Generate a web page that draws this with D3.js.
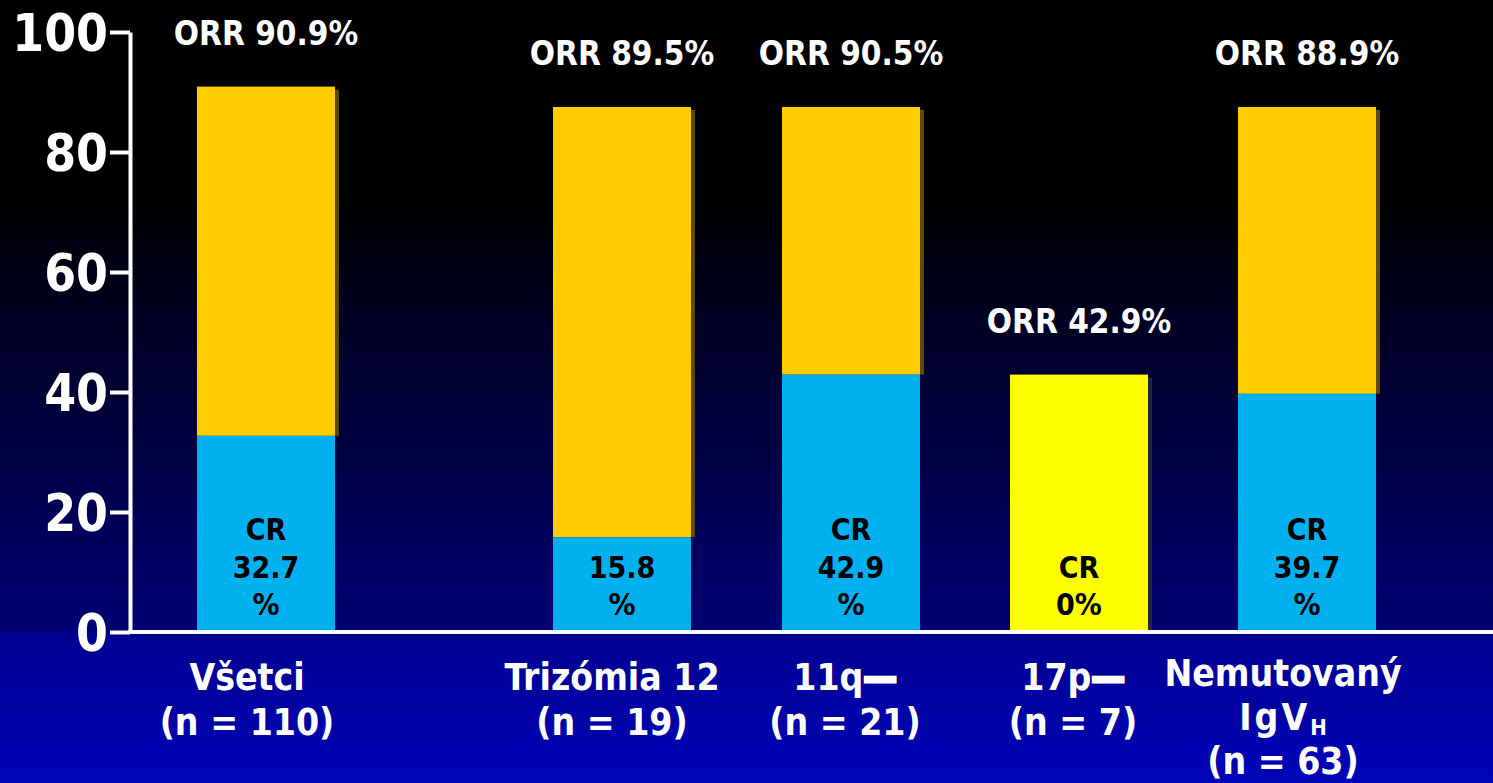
<!DOCTYPE html>
<html>
<head>
<meta charset="utf-8">
<script src="https://cdn.jsdelivr.net/npm/d3@7"></script>
<style>
  body { margin: 0; background: #000; }
  svg { display: block; font-family: "DejaVu Sans Condensed", "DejaVu Sans", sans-serif; font-weight: bold; }
</style>
</head>
<body>
<svg id="svg" width="1493" height="783"></svg>
<script>
// values
const categories = ["Všetci", "Trizómia 12", "11q", "17p", "IgVH"];
const categoryLines = [
	["Všetci", "(n = 110)"],
	["Trizómia 12", "(n = 19)"],
	["11q—", "(n = 21)"],
	["17p—", "(n = 7)"],
	["Nemutovaný", "IgV_H", "(n = 63)"],
];
const orrValues = [90.9, 89.5, 90.5, 42.9, 88.9];
const crValues = [32.7, 15.8, 42.9, 0, 39.7];
// bar heights as they are drawn on the slide (not always equal to ORR)
const barTops = [90.9, 87.5, 87.5, 42.9, 87.5];
const crLabelLines = [
	["CR", "32.7", "%"],
	["", "15.8", "%"],
	["CR", "42.9", "%"],
	["", "CR", "0%"],
	["CR", "39.7", "%"],
];
const yTicks = [0, 20, 40, 60, 80, 100];

const W = 1493, H = 783;
const BAR_W = 138;
const ORANGE = "#ffcc00", CYAN = "#00b0ef", YELLOW = "#ffff00";

const svg = d3.select("#svg");

const data = categories.map((c, i) => ({
	cat: c,
	lines: categoryLines[i],
	orr: orrValues[i],
	cr: crValues[i],
	top: barTops[i],
	crLines: crLabelLines[i],
}));

const y = d3.scaleLinear().domain([0, 100]).range([632, 32]);
const x = d3.scaleOrdinal().domain(categories).range([266, 622, 851, 1079, 1307]);
const xLabel = d3.scaleOrdinal().domain(categories).range([247, 612, 845, 1073, 1283]);

// background
const defs = svg.append("defs");
const g1 = defs.append("linearGradient").attr("id", "bgTop").attr("x1", 0).attr("x2", 0).attr("y1", 0).attr("y2", 1);
g1.append("stop").attr("offset", "0%").attr("stop-color", "#000000");
g1.append("stop").attr("offset", "30%").attr("stop-color", "#000000");
g1.append("stop").attr("offset", "100%").attr("stop-color", "#000074");
const g2 = defs.append("linearGradient").attr("id", "bgBot").attr("x1", 0).attr("x2", 0).attr("y1", 0).attr("y2", 1);
g2.append("stop").attr("offset", "0%").attr("stop-color", "#00008f");
g2.append("stop").attr("offset", "100%").attr("stop-color", "#0004b8");

svg.append("rect").attr("width", W).attr("height", y(0)).attr("fill", "url(#bgTop)");
svg.append("rect").attr("y", y(0)).attr("width", W).attr("height", H - y(0)).attr("fill", "url(#bgBot)");

// shadows of the upper segments
svg.selectAll(".shadow")
	.data(data)
	.join("rect")
	.attr("class", "shadow")
	.attr("x", (d) => x(d.cat) - BAR_W / 2 + 4)
	.attr("y", (d) => y(d.top) + 3)
	.attr("width", BAR_W)
	.attr("height", (d) => y(d.cr) - y(d.top) - 3)
	.attr("fill", (d) => (d.cr === 0 ? "#23233c" : "#5c4a0c"));

// ORR segment
svg.selectAll(".orr")
	.data(data)
	.join("rect")
	.attr("class", "orr")
	.attr("x", (d) => x(d.cat) - BAR_W / 2)
	.attr("y", (d) => y(d.top))
	.attr("width", BAR_W)
	.attr("height", (d) => y(d.cr) - y(d.top))
	.attr("fill", (d) => (d.cr === 0 ? YELLOW : ORANGE));

// CR segment
svg.selectAll(".cr")
	.data(data.filter((d) => d.cr > 0))
	.join("rect")
	.attr("class", "cr")
	.attr("x", (d) => x(d.cat) - BAR_W / 2)
	.attr("y", (d) => y(d.cr))
	.attr("width", BAR_W)
	.attr("height", (d) => y(0) - y(d.cr))
	.attr("fill", CYAN);

// CR labels inside the bars
const crOffsets = [-92, -54, -17];
svg.selectAll(".crlab")
	.data(data)
	.join("text")
	.attr("class", "crlab")
	.attr("text-anchor", "middle")
	.attr("font-size", 30)
	.attr("fill", "#000")
	.each(function (d) {
		d3.select(this)
			.selectAll("tspan")
			.data(d.crLines)
			.join("tspan")
			.attr("x", x(d.cat))
			.attr("y", (t, i) => y(0) + crOffsets[i])
			.text((t) => t);
	});

// ORR labels
svg.selectAll(".orrlab")
	.data(data)
	.join("text")
	.attr("class", "orrlab")
	.attr("x", (d) => x(d.cat))
	.attr("y", (d) => y(d.top) - 42)
	.attr("text-anchor", "middle")
	.attr("font-size", 33)
	.attr("fill", "#fff")
	.text((d) => `ORR ${d.orr.toFixed(1)}%`);

// y axis
const yAxis = d3.axisLeft(y).tickValues(yTicks).tickSize(20).tickSizeOuter(0).tickPadding(2);
const ga = svg.append("g").attr("transform", "translate(130,0)").call(yAxis);
ga.select(".domain").attr("stroke", "#fff").attr("stroke-width", 4);
ga.selectAll(".tick line").attr("stroke", "#fff").attr("stroke-width", 4);
ga.selectAll(".tick text")
	.attr("fill", "#fff")
	.attr("font-size", 51)
	.attr("font-family", "DejaVu Sans Condensed, DejaVu Sans, sans-serif")
	.attr("font-weight", "bold")
	.attr("dy", "0.36em");

// x axis line
svg.append("line")
	.attr("x1", 128).attr("x2", W)
	.attr("y1", y(0)).attr("y2", y(0))
	.attr("stroke", "#fff").attr("stroke-width", 4);

// category labels
svg.selectAll(".catlab")
	.data(data)
	.join("text")
	.attr("class", "catlab")
	.attr("text-anchor", "middle")
	.attr("font-size", 37)
	.attr("fill", "#fff")
	.each(function (d) {
		const t = d3.select(this);
		const base = d.lines.length > 2 ? 686 : 690;
		const step = d.lines.length > 2 ? 44 : 45;
		d.lines.forEach((line, i) => {
			const yy = base + i * step;
			if (line.includes("_")) {
				const [main, sub] = line.split("_");
				t.append("tspan").attr("x", xLabel(d.cat)).attr("y", yy).attr("letter-spacing", 3).text(main);
				t.append("tspan").attr("dy", 5).attr("font-size", 22).text(sub);
			} else if (line.endsWith("—")) {
				t.append("tspan").attr("x", xLabel(d.cat)).attr("y", yy).text(line.slice(0, -1));
				t.append("tspan").attr("stroke", "#fff").attr("stroke-width", 3).text("—");
			} else {
				t.append("tspan").attr("x", xLabel(d.cat)).attr("y", yy).text(line);
			}
		});
	});
</script>
</body>
</html>
